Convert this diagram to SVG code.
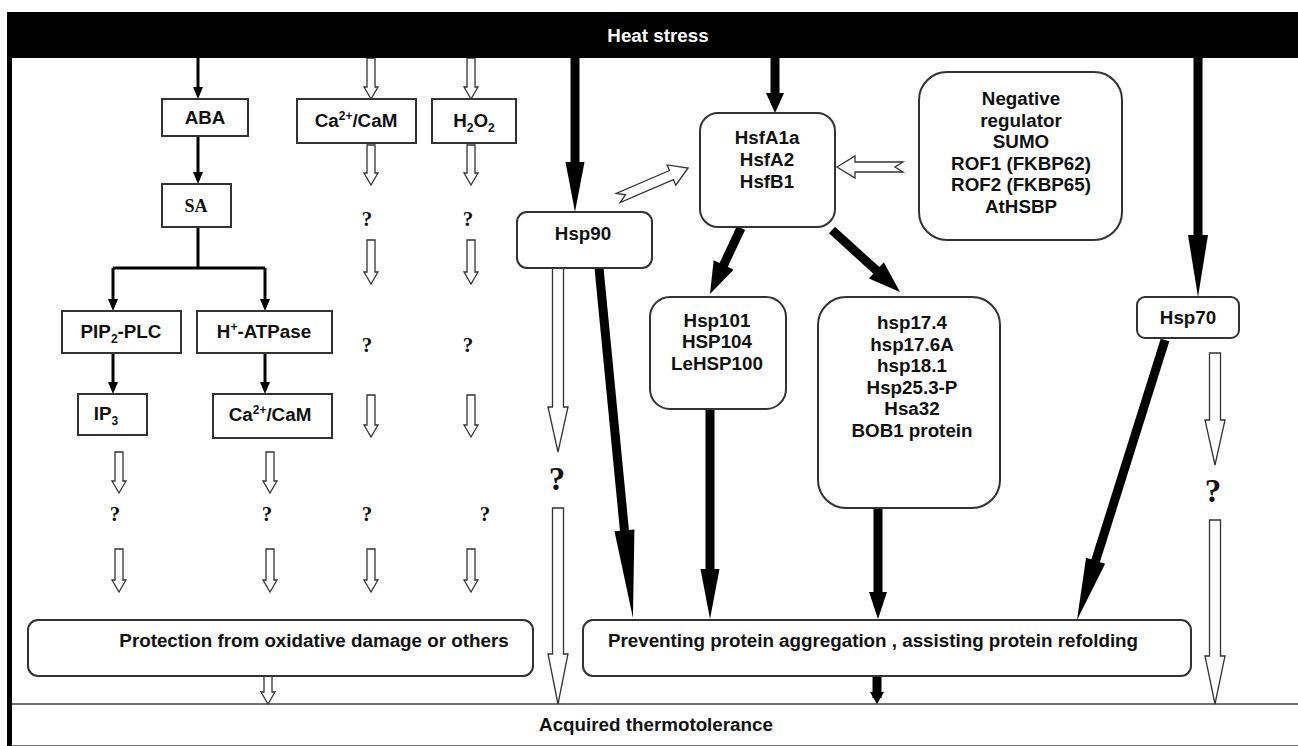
<svg xmlns="http://www.w3.org/2000/svg" width="1298" height="746" viewBox="0 0 1298 746">
<style>
.t{font-family:"Liberation Sans",Arial,sans-serif;font-weight:bold;font-size:18.8px;fill:#111;text-anchor:middle}
.s{font-family:"Liberation Serif","Times New Roman",serif;font-weight:bold;fill:#111;text-anchor:middle}
.q{font-size:21px}
.qb{font-size:33px}
.box{fill:#fff;stroke:#333;stroke-width:2}
.thin{stroke:#000;stroke-width:3;fill:none}
.thick{stroke:#000;stroke-width:9;fill:none}
.hollow{fill:#fff;stroke:#333;stroke-width:1.3}
</style>
<defs>
<marker id="mt" markerUnits="userSpaceOnUse" markerWidth="12" markerHeight="10" refX="6" refY="5" orient="auto" overflow="visible"><path d="M0,0 L12,5 L0,10 z" fill="#000"/></marker>
<marker id="mA" markerUnits="userSpaceOnUse" markerWidth="88" markerHeight="20" refX="44" refY="10" orient="auto" overflow="visible"><path d="M0,0 L88,10 L0,20 z" fill="#000"/></marker>
<marker id="mB" markerUnits="userSpaceOnUse" markerWidth="62" markerHeight="20" refX="31" refY="10" orient="auto" overflow="visible"><path d="M0,0 L62,10 L0,20 z" fill="#000"/></marker>
<marker id="mC" markerUnits="userSpaceOnUse" markerWidth="50" markerHeight="19" refX="25" refY="9.5" orient="auto" overflow="visible"><path d="M0,0 L50,9.5 L0,19 z" fill="#000"/></marker>
<marker id="mD" markerUnits="userSpaceOnUse" markerWidth="32" markerHeight="22" refX="16" refY="11" orient="auto" overflow="visible"><path d="M0,0 L32,11 L0,22 z" fill="#000"/></marker>
<marker id="mE" markerUnits="userSpaceOnUse" markerWidth="27" markerHeight="18" refX="13.5" refY="9" orient="auto" overflow="visible"><path d="M0,0 L27,9 L0,18 z" fill="#000"/></marker>
<marker id="mF" markerUnits="userSpaceOnUse" markerWidth="20" markerHeight="18" refX="10" refY="9" orient="auto" overflow="visible"><path d="M0,0 L20,9 L0,18 z" fill="#000"/></marker>
<marker id="mG" markerUnits="userSpaceOnUse" markerWidth="12" markerHeight="14" refX="6" refY="7" orient="auto" overflow="visible"><path d="M0,0 L12,7 L0,14 z" fill="#000"/></marker>
</defs>
<rect width="1298" height="746" fill="#fff"/>

<g id="acquired">
<rect x="10" y="704" width="1292" height="42" fill="#fff" stroke="#444" stroke-width="1.5"/>
<text class="t" x="656" y="731">Acquired thermotolerance</text>
</g>

<g id="connectors">
<line class="thin" x1="198" y1="58" x2="198" y2="93" marker-end="url(#mt)"/>
<line class="thin" x1="198" y1="136" x2="198" y2="178" marker-end="url(#mt)"/>
<polyline class="thin" points="198,227 198,268"/>
<polyline class="thin" points="113,268 265,268"/>
<line class="thin" x1="113" y1="268" x2="113" y2="305" marker-end="url(#mt)"/>
<line class="thin" x1="265" y1="268" x2="265" y2="305" marker-end="url(#mt)"/>
<line class="thin" x1="113" y1="353" x2="113" y2="388" marker-end="url(#mt)"/>
<line class="thin" x1="265" y1="353" x2="265" y2="388" marker-end="url(#mt)"/>
<path class="hollow" d="M367,58 V87 H364 L371,99 L378,87 H375 V58 Z"/>
<path class="hollow" d="M467,58 V87 H464 L471,99 L478,87 H475 V58 Z"/>
<path class="hollow" d="M367,145 V173 H364 L371,185 L378,173 H375 V145 Z"/>
<path class="hollow" d="M467,145 V173 H464 L471,185 L478,173 H475 V145 Z"/>
<path class="hollow" d="M367,240 V272 H364 L371,284 L378,272 H375 V240 Z"/>
<path class="hollow" d="M467,240 V272 H464 L471,284 L478,272 H475 V240 Z"/>
<path class="hollow" d="M367,395 V425 H364 L371,437 L378,425 H375 V395 Z"/>
<path class="hollow" d="M467,395 V425 H464 L471,437 L478,425 H475 V395 Z"/>
<path class="hollow" d="M115,452 V481 H112 L119,493 L126,481 H123 V452 Z"/>
<path class="hollow" d="M266,452 V481 H263 L270,493 L277,481 H274 V452 Z"/>
<path class="hollow" d="M115,549 V580 H112 L119,592 L126,580 H123 V549 Z"/>
<path class="hollow" d="M266,549 V580 H263 L270,592 L277,580 H274 V549 Z"/>
<path class="hollow" d="M367,549 V580 H364 L371,592 L378,580 H375 V549 Z"/>
<path class="hollow" d="M467,549 V580 H464 L471,592 L478,580 H475 V549 Z"/>
<path class="hollow" d="M264,676 V692 H261 L268,704 L275,692 H272 V676 Z"/>
<path class="hollow" d="M552.5,268 V407 H548 L558,452 L568,407 H563.5 V268 Z"/>
<path class="hollow" d="M552.5,508 V654 H548 L558,704 L568,654 H563.5 V508 Z"/>
<path class="hollow" d="M1209.5,353 V420 H1205 L1215,465 L1225,420 H1220.5 V353 Z"/>
<path class="hollow" d="M1209.5,520 V656 H1205 L1215,704 L1225,656 H1220.5 V520 Z"/>
<path class="hollow" d="M0,0 L18,-11 L18,-5 L76,-5 L68,0 L76,5 L18,5 L18,11 Z" transform="translate(688,168) rotate(156.8)"/>
<path class="hollow" d="M0,0 L18,-11 L18,-5 L66,-5 L58,0 L66,5 L18,5 L18,11 Z" transform="translate(837,167)"/>
<line class="thick" x1="575" y1="58" x2="575" y2="187" marker-end="url(#mC)"/>
<line class="thick" x1="775" y1="58" x2="775" y2="103" marker-end="url(#mF)"/>
<line class="thick" x1="1198" y1="58" x2="1198" y2="266" marker-end="url(#mB)"/>
<line class="thick" x1="599" y1="268" x2="628.7" y2="574.2" marker-end="url(#mA)"/>
<line class="thick" x1="1165" y1="340" x2="1086.3" y2="590.4" marker-end="url(#mB)"/>
<line class="thick" x1="741" y1="228" x2="716.8" y2="279.5" marker-end="url(#mD)"/>
<line class="thick" x1="832" y1="230" x2="888.2" y2="281.2" marker-end="url(#mD)"/>
<line class="thick" x1="710" y1="409" x2="710" y2="594" marker-end="url(#mC)"/>
<line class="thick" x1="878" y1="508" x2="878" y2="605.5" marker-end="url(#mE)"/>
<line class="thick" x1="877" y1="676" x2="877" y2="698" marker-end="url(#mG)"/>
</g>

<g id="heat-stress">
<rect x="7" y="12" width="1291" height="46" fill="#000"/>
<text class="t" x="658" y="42" style="fill:#fff">Heat stress</text>
</g>
<rect id="left-border" x="7" y="12" width="5" height="734" fill="#000"/>

<g id="aba"><rect class="box" x="162" y="99" width="86" height="37"/><text class="t" x="205" y="124">ABA</text></g>
<g id="ca-cam-1"><rect class="box" x="297" y="99" width="119" height="44"/><text class="t" x="356" y="127">Ca<tspan dy="-7" font-size="12">2+</tspan><tspan dy="7">/CaM</tspan></text></g>
<g id="h2o2"><rect class="box" x="432" y="99" width="84" height="44"/><text class="t" x="474" y="127">H<tspan dy="5" font-size="12">2</tspan><tspan dy="-5">O</tspan><tspan dy="5" font-size="12">2</tspan></text></g>
<g id="sa"><rect class="box" x="162" y="184" width="69" height="43"/><text class="s" x="196" y="212" font-size="18">SA</text></g>
<g id="pip2-plc"><rect class="box" x="62" y="311" width="119" height="42"/><text class="t" x="121" y="338">PIP<tspan dy="5" font-size="12">2</tspan><tspan dy="-5">-PLC</tspan></text></g>
<g id="h-atpase"><rect class="box" x="197" y="311" width="135" height="42"/><text class="t" x="264" y="338">H<tspan dy="-7" font-size="12">+</tspan><tspan dy="7">-ATPase</tspan></text></g>
<g id="ip3"><rect class="box" x="78" y="394" width="69" height="41"/><text class="t" x="106" y="420">IP<tspan dy="5" font-size="12">3</tspan></text></g>
<g id="ca-cam-2"><rect class="box" x="213" y="394" width="119" height="44"/><text class="t" x="270" y="421">Ca<tspan dy="-7" font-size="12">2+</tspan><tspan dy="7">/CaM</tspan></text></g>

<g id="q-marks">
<text class="s q" x="367" y="226">?</text>
<text class="s q" x="468" y="226">?</text>
<text class="s q" x="367" y="352">?</text>
<text class="s q" x="468" y="352">?</text>
<text class="s q" x="115" y="521">?</text>
<text class="s q" x="267" y="521">?</text>
<text class="s q" x="367" y="521">?</text>
<text class="s q" x="485" y="521">?</text>
<text class="s qb" x="557" y="490">?</text>
<text class="s qb" x="1213" y="502">?</text>
</g>

<g id="hsp90"><rect class="box" x="517" y="212" width="135" height="56" rx="10"/><text class="t" x="583" y="240">Hsp90</text></g>
<g id="hsf"><rect class="box" x="700" y="113" width="135" height="114" rx="18"/>
<text class="t" x="767" y="144">HsfA1a</text><text class="t" x="767" y="166">HsfA2</text><text class="t" x="767" y="188">HsfB1</text></g>
<g id="negative-regulator"><rect class="box" x="919" y="72" width="203" height="168" rx="28"/>
<text class="t" x="1021" y="105">Negative</text><text class="t" x="1021" y="127">regulator</text><text class="t" x="1021" y="148">SUMO</text><text class="t" x="1021" y="170">ROF1 (FKBP62)</text><text class="t" x="1021" y="191">ROF2 (FKBP65)</text><text class="t" x="1021" y="213">AtHSBP</text></g>
<g id="hsp70"><rect class="box" x="1137" y="297" width="102" height="41" rx="8"/><text class="t" x="1188" y="324">Hsp70</text></g>
<g id="hsp101"><rect class="box" x="650" y="297" width="136" height="112" rx="20"/>
<text class="t" x="717" y="327">Hsp101</text><text class="t" x="717" y="348">HSP104</text><text class="t" x="717" y="370">LeHSP100</text></g>
<g id="shsp"><rect class="box" x="818" y="297" width="182" height="211" rx="28"/>
<text class="t" x="912" y="329">hsp17.4</text><text class="t" x="912" y="351">hsp17.6A</text><text class="t" x="912" y="372">hsp18.1</text><text class="t" x="912" y="394">Hsp25.3-P</text><text class="t" x="912" y="415">Hsa32</text><text class="t" x="912" y="437">BOB1 protein</text></g>

<g id="protection"><rect class="box" x="28" y="620" width="505" height="56" rx="10"/><text class="t" x="314" y="647">Protection from oxidative damage or others</text></g>
<g id="preventing"><rect class="box" x="583" y="620" width="608" height="56" rx="10"/><text class="t" x="873" y="647">Preventing protein aggregation , assisting protein refolding</text></g>
</svg>
